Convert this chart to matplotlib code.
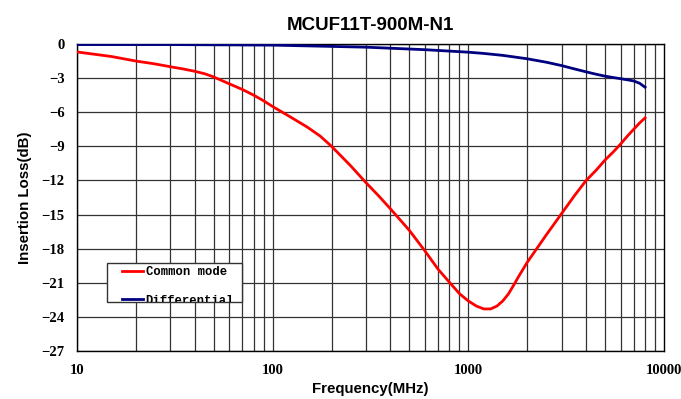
import numpy as np
import matplotlib
matplotlib.use("Agg")
import matplotlib.pyplot as plt
import matplotlib.patches as patches
from matplotlib.transforms import Bbox, TransformedBbox

# values
title = "MCUF11T-900M-N1"
series_names = ["Common mode", "Differential"]

cm_freq = [10, 15, 20, 25, 30, 35, 40, 45, 50, 60, 70, 80, 90, 100, 120, 150, 175,
           200, 250, 300, 350, 400, 450, 500, 600, 700, 800, 900, 1000, 1100, 1200,
           1300, 1400, 1500, 1600, 1700, 1800, 2000, 2500, 3000, 3500, 4000, 4500,
           5000, 5500, 6000, 6500, 7000, 7500, 8000]
cm_loss = [-0.7, -1.1, -1.5, -1.75, -2.0, -2.2, -2.4, -2.62, -2.9, -3.5, -4.0, -4.5,
           -5.0, -5.5, -6.3, -7.3, -8.1, -9.0, -10.7, -12.2, -13.4, -14.5, -15.5,
           -16.4, -18.2, -19.8, -20.95, -21.95, -22.6, -23.05, -23.3, -23.3, -23.05,
           -22.6, -22.0, -21.25, -20.5, -19.2, -16.8, -14.9, -13.3, -12.0, -11.1,
           -10.2, -9.5, -8.8, -8.1, -7.5, -6.95, -6.5]

dm_freq = [10, 30, 100, 175, 300, 600, 1000, 1200, 1500, 2000, 2500, 3000, 3500,
           4000, 4500, 5000, 5500, 6000, 6500, 7000, 7500, 8000]
dm_loss = [-0.05, -0.05, -0.1, -0.19, -0.28, -0.5, -0.72, -0.83, -1.0, -1.3, -1.6,
           -1.9, -2.2, -2.45, -2.66, -2.83, -2.95, -3.05, -3.15, -3.25, -3.45, -3.8]

x_ticks = [10, 100, 1000, 10000]
y_ticks = list(range(0, -28, -3))

fig = plt.figure(figsize=(6.81, 3.99), dpi=100)
ax = fig.add_axes([77/681, 1 - 351/399, 587/681, 307/399])

ax.set_xscale("log")
ax.set_xlim(10, 10000)
ax.set_ylim(-27, 0)

# grid: decades + 2..9 minors, every 3 dB horizontally
for dec in [10, 100, 1000]:
    for m in range(1, 10):
        ax.axvline(dec * m, color="#333333", lw=0.9, zorder=1)
for y in y_ticks:
    ax.axhline(y, color="#333333", lw=0.9, zorder=1)

ax.plot(cm_freq, cm_loss, color="#ff0000", lw=2.0, zorder=3, solid_joinstyle="round")
ax.plot(dm_freq, dm_loss, color="#000080", lw=2.0, zorder=3, solid_joinstyle="round")

ax.set_xticks(x_ticks)
ax.set_xticklabels([str(t) for t in x_ticks])
ax.set_xticks([], minor=True)
ax.set_yticks(y_ticks)
ax.set_yticklabels([str(t).replace("-", "\u2212") for t in y_ticks])
ax.tick_params(length=0, pad=9)
for lab in ax.get_xticklabels() + ax.get_yticklabels():
    lab.set_fontfamily("Liberation Serif")
    lab.set_fontweight("bold")
    lab.set_fontsize(10.5)
for s in ax.spines.values():
    s.set_color("black")
    s.set_linewidth(1.0)

ax.set_title(title, fontsize=13.5, fontweight="bold", family="Liberation Sans", pad=10)
ax.set_xlabel("Frequency(MHz)", fontsize=10.8, fontweight="bold", family="Liberation Sans", labelpad=4)
ax.set_ylabel("Insertion Loss(dB)", fontsize=10.8, fontweight="bold", family="Liberation Sans", labelpad=7)

# hand-made legend box (the text of the second entry is cut off by the box)
bx, by, bw, bh = 0.051, 0.160, 0.230, 0.127
box = patches.Rectangle((bx, by), bw, bh, transform=ax.transAxes,
                        facecolor="white", edgecolor="#333333", lw=1.0, zorder=4)
ax.add_patch(box)
clip = TransformedBbox(Bbox.from_bounds(bx, by, bw, bh), ax.transAxes)
colors = ["#ff0000", "#000080"]
line_rows = [0.259, 0.168]
text_rows = [0.257, 0.163]
for name, c, ly, ty in zip(series_names, colors, line_rows, text_rows):
    ax.plot([0.077, 0.113], [ly, ly], color=c, lw=2.0, transform=ax.transAxes, zorder=5)
    t = ax.text(0.117, ty, name, transform=ax.transAxes, fontsize=8.8, family="Liberation Mono",
                fontweight="bold", va="center", ha="left", zorder=5)
    t.set_clip_box(clip)
    t.set_clip_on(True)

fig.savefig("out.png", dpi=100)
